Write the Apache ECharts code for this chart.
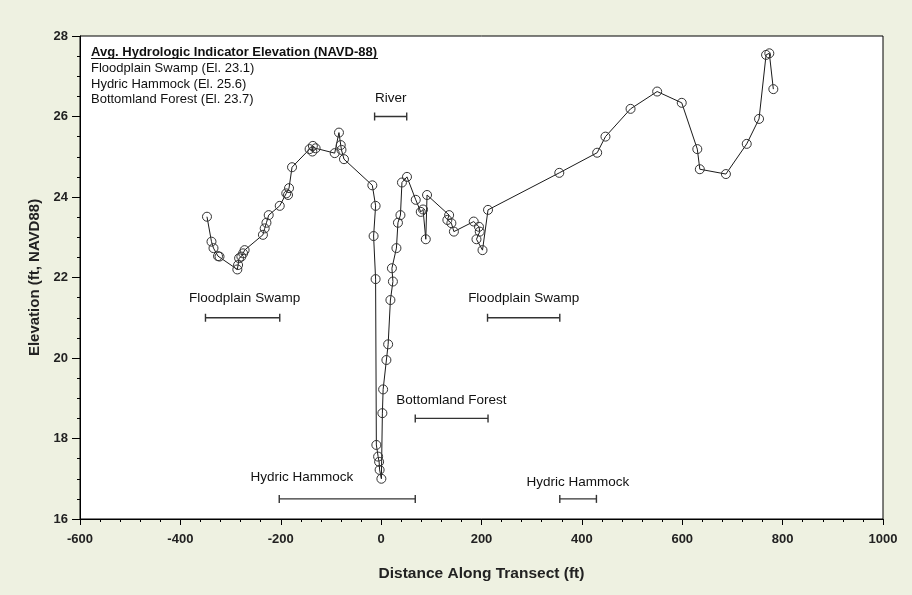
<!DOCTYPE html>
<html>
<head>
<meta charset="utf-8">
<script src="https://cdn.jsdelivr.net/npm/echarts@6/dist/echarts.min.js"></script>
<style>
  html, body { margin: 0; padding: 0; background: #eef1e1; }
  #chart { width: 912px; height: 595px; }
</style>
</head>
<body>
<div id="chart"></div>
<script>
// ---- Data ----
const distance = [
  -347, -338, -334, -325, -322, -286.5, -285, -283, -278.5, -275, -272,
  -235.5, -232, -228.5, -224, -202, -189, -185.5, -183.5, -177.5,
  -142.5, -137, -136, -130.5, -92.5, -84, -80.5, -79, -74,
  -17.5, -11, -15, -11, -9.5, -6, -4, -3, 0.5,
  2.5, 4, 10.5, 14, 18.5, 23.5, 21.5, 30.5, 33.5, 38.5, 41.5, 51.5,
  69, 79, 83.5, 89, 91.5, 135.5, 132, 140, 145,
  184.5, 195, 196.5, 190, 202, 213,
  355, 430.5, 447, 497, 550, 599, 630, 635, 687, 728.5, 753, 767, 773.5, 781.5
];
const elevation = [
  23.51, 22.89, 22.73, 22.53, 22.52, 22.20, 22.31, 22.48, 22.52, 22.60, 22.68,
  23.06, 23.22, 23.36, 23.55, 23.78, 24.09, 24.05, 24.22, 24.74,
  25.19, 25.13, 25.27, 25.21, 25.09, 25.60, 25.29, 25.17, 24.94,
  24.29, 23.78, 23.03, 21.96, 17.84, 17.55, 17.42, 17.22, 17.00,
  18.63, 19.22, 19.95, 20.34, 21.44, 21.90, 22.23, 22.73, 23.36, 23.55, 24.36, 24.50,
  23.93, 23.63, 23.69, 22.95, 24.05, 23.55, 23.43, 23.35, 23.14,
  23.39, 23.26, 23.14, 22.95, 22.68, 23.68,
  24.60, 25.10, 25.50, 26.19, 26.62, 26.34, 25.19, 24.69, 24.57, 25.32, 25.94, 27.53, 27.57, 26.68
];

// Vegetation zone ranges (distance from/to, elevation)
const zoneNames = ['River', 'Floodplain Swamp', 'Floodplain Swamp', 'Bottomland Forest', 'Hydric Hammock', 'Hydric Hammock'];
const zoneStart = [-13, -350, 212, 68, -203, 356];
const zoneEnd   = [51, -202, 356, 213, 68, 429];
const zoneElev  = [26.0, 21.0, 21.0, 18.5, 16.5, 16.5];
const zoneLabelX = [19, -272, 284, 140, -158, 392];

const xTicks = [-600, -400, -200, 0, 200, 400, 600, 800, 1000];
const yTicks = [16, 18, 20, 22, 24, 26, 28];

const legendTitle = 'Avg. Hydrologic Indicator Elevation (NAVD-88)';
const legendLines = ['Floodplain Swamp (El. 23.1)', 'Hydric Hammock (El. 25.6)', 'Bottomland Forest (El. 23.7)'];

// ---- Chart ----
const FONT = '"Liberation Sans", Arial, sans-serif';
const chart = echarts.init(document.getElementById('chart'), null, { renderer: 'canvas' });

const profile = distance.map((d, i) => [d, elevation[i]]);
const zones = zoneNames.map((n, i) => [zoneStart[i], zoneEnd[i], zoneElev[i], zoneLabelX[i]]);
const labelLift = [18, 19, 19, 18, 22, 17];

const legendGraphics = [
  { type: 'text', left: 91, top: 46, style: { text: legendTitle, font: 'bold 13px ' + FONT, fill: '#111' } },
  { type: 'rect', left: 91, top: 58, shape: { width: 287, height: 1 }, style: { fill: '#111' } }
];
legendLines.forEach((t, i) => {
  legendGraphics.push({ type: 'text', left: 91, top: 62 + i * 15.5, style: { text: t, font: '13px ' + FONT, fill: '#111' } });
});

chart.setOption({
  animation: false,
  backgroundColor: '#eef1e1',
  grid: { left: 80, right: 29, top: 36, bottom: 76, show: true, backgroundColor: '#ffffff', borderColor: '#000', borderWidth: 1 },
  xAxis: {
    type: 'value', min: xTicks[0], max: xTicks[xTicks.length - 1], interval: 200,
    name: 'Distance Along Transect (ft)', nameLocation: 'middle', nameGap: 47,
    nameTextStyle: { fontFamily: FONT, fontWeight: 'bold', fontSize: 15.5, color: '#222' },
    axisLine: { onZero: false, lineStyle: { color: '#000', width: 1 } },
    axisTick: { show: true, length: 6, lineStyle: { color: '#000' } },
    minorTick: { show: true, splitNumber: 5, length: 3, lineStyle: { color: '#000' } },
    axisLabel: { fontFamily: FONT, fontWeight: 'bold', fontSize: 13, color: '#222', margin: 14,
                 formatter: v => String(v) },
    splitLine: { show: false }
  },
  yAxis: {
    type: 'value', min: yTicks[0], max: yTicks[yTicks.length - 1], interval: 2,
    name: 'Elevation (ft, NAVD88)', nameLocation: 'middle', nameGap: 38,
    nameTextStyle: { fontFamily: FONT, fontWeight: 'bold', fontSize: 15, color: '#222' },
    axisLine: { onZero: false, lineStyle: { color: '#000', width: 1 } },
    axisTick: { show: true, length: 8, lineStyle: { color: '#000' } },
    minorTick: { show: true, splitNumber: 4, length: 3, lineStyle: { color: '#000' } },
    axisLabel: { fontFamily: FONT, fontWeight: 'bold', fontSize: 13, color: '#222', margin: 12 },
    splitLine: { show: false }
  },
  series: [
    {
      type: 'line',
      data: profile,
      symbol: 'circle',
      symbolSize: 9,
      showAllSymbol: true,
      lineStyle: { color: '#1a1a1a', width: 1 },
      itemStyle: { color: 'rgba(255,255,255,0)', borderColor: '#333', borderWidth: 1 },
      z: 3
    },
    {
      type: 'custom',
      data: zones,
      encode: { x: [0, 1, 3], y: 2 },
      clip: false,
      renderItem: function (params, api) {
        const y = api.value(2);
        const p0 = api.coord([api.value(0), y]);
        const p1 = api.coord([api.value(1), y]);
        const pl = api.coord([api.value(3), y]);
        const st = { stroke: '#333', lineWidth: 1.4 };
        return {
          type: 'group',
          children: [
            { type: 'line', shape: { x1: p0[0], y1: p0[1], x2: p1[0], y2: p1[1] }, style: st },
            { type: 'line', shape: { x1: p0[0], y1: p0[1] - 4, x2: p0[0], y2: p0[1] + 4 }, style: st },
            { type: 'line', shape: { x1: p1[0], y1: p1[1] - 4, x2: p1[0], y2: p1[1] + 4 }, style: st },
            { type: 'text', x: pl[0], y: pl[1] - labelLift[params.dataIndex],
              style: { text: zoneNames[params.dataIndex], textAlign: 'center', textVerticalAlign: 'middle',
                       font: '13.5px ' + FONT, fill: '#111' } }
          ]
        };
      },
      z: 2
    }
  ],
  graphic: legendGraphics
});
</script>
</body>
</html>
